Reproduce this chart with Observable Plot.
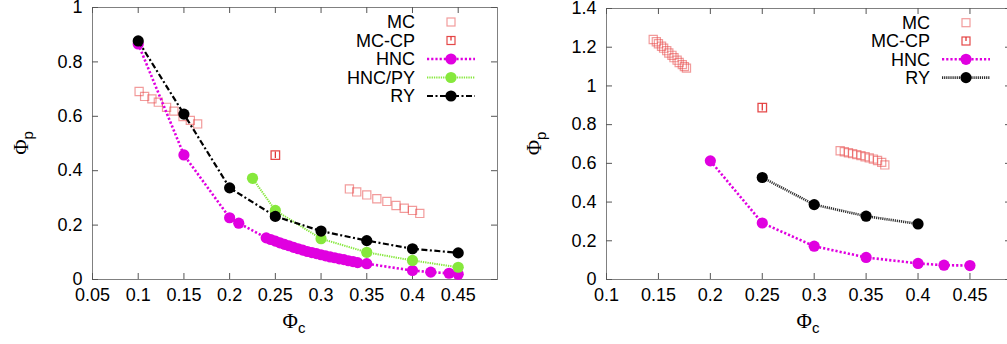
<!DOCTYPE html>
<html><head><meta charset="utf-8">
<script src="https://cdn.jsdelivr.net/npm/d3@7"></script>
<script src="https://cdn.jsdelivr.net/npm/@observablehq/plot@0.6"></script>
<style>
html,body{margin:0;padding:0;background:#fff;}
body{width:1007px;height:344px;overflow:hidden;}
#wrap{display:flex;width:1007px;height:344px;overflow:hidden;}
#wrap > div{flex:none;}
</style></head>
<body><div id="wrap"><div id="left"></div><div id="right"></div></div>
<script>
// ---------- Left panel data ----------
const leftXTicks = [0.05, 0.1, 0.15, 0.2, 0.25, 0.3, 0.35, 0.4, 0.45];
const leftXLabels = ["0.05", "0.1", "0.15", "0.2", "0.25", "0.3", "0.35", "0.4", "0.45"];
const leftYTicks = [0, 0.2, 0.4, 0.6, 0.8, 1];
const leftYLabels = ["0", "0.2", "0.4", "0.6", "0.8", "1"];

const leftMcX = [0.101, 0.107, 0.115, 0.122, 0.131, 0.139, 0.149, 0.157, 0.165,
                 0.331, 0.339, 0.350, 0.361, 0.372, 0.382, 0.391, 0.400, 0.408];
const leftMcY = [0.691, 0.673, 0.664, 0.652, 0.633, 0.619, 0.599, 0.585, 0.572,
                 0.333, 0.322, 0.311, 0.297, 0.287, 0.272, 0.262, 0.254, 0.243];
const leftMcCpX = [0.25];
const leftMcCpY = [0.457];
const leftMcCpErr = [0.012];
const leftHncX = [0.1, 0.15, 0.2, 0.21,
  0.240, 0.245, 0.250, 0.255, 0.260, 0.265, 0.270, 0.275, 0.280, 0.285, 0.290,
  0.295, 0.300, 0.305, 0.310, 0.315, 0.320, 0.325, 0.330, 0.335, 0.340,
  0.35, 0.4, 0.42, 0.44, 0.45];
const leftHncY = [0.866, 0.458, 0.227, 0.207,
  0.153, 0.147, 0.141, 0.135, 0.129, 0.124, 0.118, 0.113, 0.108, 0.103, 0.099,
  0.095, 0.091, 0.087, 0.083, 0.080, 0.076, 0.073, 0.069, 0.066, 0.062,
  0.058, 0.033, 0.027, 0.023, 0.019];
const leftHncPyX = [0.225, 0.25, 0.3, 0.35, 0.4, 0.45];
const leftHncPyY = [0.372, 0.254, 0.150, 0.100, 0.070, 0.045];
const leftRyX = [0.1, 0.15, 0.2, 0.25, 0.3, 0.35, 0.4, 0.45];
const leftRyY = [0.877, 0.608, 0.337, 0.232, 0.178, 0.143, 0.113, 0.098];

// ---------- Right panel data ----------
const rightXTicks = [0.1, 0.15, 0.2, 0.25, 0.3, 0.35, 0.4, 0.45];
const rightXLabels = ["0.1", "0.15", "0.2", "0.25", "0.3", "0.35", "0.4", "0.45"];
const rightYTicks = [0, 0.2, 0.4, 0.6, 0.8, 1, 1.2, 1.4];
const rightYLabels = ["0", "0.2", "0.4", "0.6", "0.8", "1", "1.2", "1.4"];

const rightMcX = [0.145, 0.148, 0.150, 0.153, 0.155, 0.158, 0.160, 0.163, 0.165, 0.168, 0.170, 0.173, 0.175, 0.177,
                  0.325, 0.329, 0.333, 0.337, 0.341, 0.345, 0.349, 0.353, 0.357, 0.361, 0.365, 0.368];
const rightMcY = [1.240, 1.228, 1.218, 1.205, 1.195, 1.182, 1.170, 1.158, 1.146, 1.133, 1.121, 1.110, 1.100, 1.092,
                  0.665, 0.660, 0.655, 0.650, 0.645, 0.640, 0.634, 0.628, 0.622, 0.615, 0.605, 0.592];
const rightMcCpX = [0.25];
const rightMcCpY = [0.888];
const rightMcCpErr = [0.018];
const rightHncX = [0.2, 0.25, 0.3, 0.35, 0.4, 0.425, 0.45];
const rightHncY = [0.613, 0.292, 0.172, 0.114, 0.083, 0.074, 0.072];
const rightRyX = [0.25, 0.3, 0.35, 0.4];
const rightRyY = [0.527, 0.387, 0.327, 0.287];

const seriesNames = ["MC", "MC-CP", "HNC", "HNC/PY", "RY"];

// ---------- styles ----------
const FONT = "'Liberation Sans', Arial, Helvetica, sans-serif";
const C_MC = "#e84848", C_CP = "#e02828", C_HNC = "#e000e0", C_PY = "#86e83c", C_RY = "#000000";

const zip = (xs, ys, es) => xs.map((x, i) => ({x, y: ys[i], e: es ? es[i] : 0}));

function panel(cfg) {
  const plotW = cfg.width - cfg.marginLeft - cfg.marginRight;
  const plotH = cfg.height - cfg.marginTop - cfg.marginBottom;
  const mc = zip(cfg.mcX, cfg.mcY);
  const cp = zip(cfg.cpX, cfg.cpY, cfg.cpErr);
  const hnc = zip(cfg.hncX, cfg.hncY);
  const py = cfg.pyX ? zip(cfg.pyX, cfg.pyY) : [];
  const ry = zip(cfg.ryX, cfg.ryY);
  const xFmt = d => cfg.xLabels[cfg.xTicks.indexOf(d)];
  const yFmt = d => cfg.yLabels[cfg.yTicks.indexOf(d)];
  const lineOpts = {strokeLinecap: "butt", strokeLinejoin: "miter"};
  const marks = [
    Plot.frame({stroke: "#808080", strokeWidth: 1}),
    Plot.tickX(cfg.xTicks, {x: d => d, insetTop: plotH - 6, stroke: "#555"}),
    Plot.tickX(cfg.xTicks, {x: d => d, insetBottom: plotH - 6, stroke: "#555"}),
    Plot.tickY(cfg.yTicks, {y: d => d, insetRight: plotW - 6, stroke: "#555"}),
    Plot.tickY(cfg.yTicks, {y: d => d, insetLeft: plotW - 6, stroke: "#555"}),
    Plot.axisX(cfg.xTicks, {anchor: "bottom", tickSize: 0, tickPadding: 9, tickFormat: xFmt, label: null, fontSize: 18, fill: "#000"}),
    Plot.axisY(cfg.yTicks, {anchor: "left", tickSize: 0, tickPadding: 10, tickFormat: yFmt, label: null, fontSize: 18, fill: "#000"}),
    // MC
    Plot.dot(mc, {x: "x", y: "y", symbol: "square", r: 4.6, stroke: C_MC, strokeOpacity: 0.55, strokeWidth: 1.2, fill: "none"}),
    // MC-CP
    Plot.ruleX(cp, {x: "x", y1: d => d.y - d.e, y2: d => d.y + d.e, stroke: C_CP, strokeWidth: 1.2}),
    Plot.dot(cp, {x: "x", y: "y", symbol: "square", r: 4.8, stroke: C_CP, strokeOpacity: 0.85, strokeWidth: 1.3, fill: "none"}),
    // HNC
    Plot.line(hnc, {x: "x", y: "y", stroke: C_HNC, strokeWidth: 2.6, strokeDasharray: "2.2,2", ...lineOpts}),
    Plot.dot(hnc, {x: "x", y: "y", r: 5.6, fill: C_HNC}),
  ];
  if (py.length) {
    marks.push(Plot.line(py, {x: "x", y: "y", stroke: C_PY, strokeWidth: 2, strokeDasharray: "1.3,1", ...lineOpts}));
    marks.push(Plot.dot(py, {x: "x", y: "y", r: 5.6, fill: C_PY}));
  }
  marks.push(Plot.line(ry, {x: "x", y: "y", stroke: cfg.ryStroke, strokeWidth: cfg.ryWidth, strokeDasharray: cfg.ryDash, ...lineOpts}));
  marks.push(Plot.dot(ry, {x: "x", y: "y", r: 5.6, fill: C_RY}));

  const svg = Plot.plot({
    width: cfg.width, height: cfg.height,
    marginLeft: cfg.marginLeft, marginRight: cfg.marginRight,
    marginTop: cfg.marginTop, marginBottom: cfg.marginBottom,
    x: {domain: cfg.xDomain},
    y: {domain: cfg.yDomain},
    style: {fontFamily: FONT, fontSize: "18px", color: "#000", background: "#fff", overflow: "visible"},
    marks
  });

  const s = d3.select(svg);
  // axis titles: Φ_p (vertical) and Φ_c
  const ty = s.append("text")
    .attr("transform", `translate(${cfg.yTitleX},${cfg.marginTop + plotH / 2}) rotate(-90)`)
    .attr("text-anchor", "middle").attr("font-size", 21).attr("fill", "#000");
  ty.append("tspan").attr("font-family", "'Liberation Serif', 'DejaVu Serif', serif").text("Φ");
  ty.append("tspan").attr("font-family", FONT).attr("font-size", 15).attr("dy", 5).text("p");
  const tx = s.append("text")
    .attr("x", cfg.xTitleX).attr("y", cfg.xTitleY)
    .attr("text-anchor", "middle").attr("font-size", 21).attr("fill", "#000");
  tx.append("tspan").attr("font-family", "'Liberation Serif', 'DejaVu Serif', serif").text("Φ");
  tx.append("tspan").attr("font-family", FONT).attr("font-size", 15).attr("dy", 5).text("c");

  // legend
  const L = cfg.legend;
  const styles = {
    "MC": {type: "sq", stroke: C_MC, op: 0.55},
    "MC-CP": {type: "sq", stroke: C_CP, op: 0.85, err: true},
    "HNC": {type: "ln", stroke: C_HNC, w: 2.6, dash: "2.2,2"},
    "HNC/PY": {type: "ln", stroke: C_PY, w: 2, dash: "1.3,1"},
    "RY": {type: "ln", stroke: cfg.ryStroke, w: cfg.ryWidth, dash: cfg.ryDash, dot: C_RY}
  };
  const g = s.append("g");
  cfg.legendNames.forEach((name, i) => {
    const y = L.y0 + i * L.dy;
    const st = styles[name];
    g.append("text").attr("x", L.textRight).attr("y", y).attr("dy", "0.36em")
      .attr("text-anchor", "end").attr("font-family", FONT).attr("font-size", 18).attr("fill", "#000").text(name);
    if (st.type === "sq") {
      g.append("rect").attr("x", L.mid - 4).attr("y", y - 4).attr("width", 8).attr("height", 8)
        .attr("fill", "none").attr("stroke", st.stroke).attr("stroke-opacity", st.op).attr("stroke-width", 1.2);
      if (st.err) g.append("line").attr("x1", L.mid).attr("x2", L.mid).attr("y1", y - 4).attr("y2", y)
        .attr("stroke", st.stroke).attr("stroke-width", 1.2);
    } else {
      g.append("line").attr("x1", L.x1).attr("x2", L.x2).attr("y1", y).attr("y2", y)
        .attr("stroke", st.stroke).attr("stroke-width", st.w).attr("stroke-dasharray", st.dash);
      g.append("circle").attr("cx", L.mid).attr("cy", y).attr("r", 5.6).attr("fill", st.dot || st.stroke);
    }
  });
  return svg;
}

document.getElementById("left").append(panel({
  width: 500, height: 344, marginLeft: 92, marginRight: 3, marginTop: 7, marginBottom: 65,
  xDomain: [0.05, 0.493], yDomain: [0, 1],
  xTicks: leftXTicks, xLabels: leftXLabels, yTicks: leftYTicks, yLabels: leftYLabels,
  mcX: leftMcX, mcY: leftMcY, cpX: leftMcCpX, cpY: leftMcCpY, cpErr: leftMcCpErr,
  hncX: leftHncX, hncY: leftHncY, pyX: leftHncPyX, pyY: leftHncPyY, ryX: leftRyX, ryY: leftRyY,
  ryStroke: "#000", ryWidth: 2.2, ryDash: "6,2.5,2,2.5",
  yTitleX: 28, xTitleX: 294, xTitleY: 328,
  legendNames: seriesNames,
  legend: {textRight: 415, x1: 427, x2: 475, mid: 451, y0: 22, dy: 18.5}
}));

document.getElementById("right").append(panel({
  width: 511, height: 344, marginLeft: 106, marginRight: 0, marginTop: 8, marginBottom: 65,
  xDomain: [0.1, 0.49], yDomain: [0, 1.4],
  xTicks: rightXTicks, xLabels: rightXLabels, yTicks: rightYTicks, yLabels: rightYLabels,
  mcX: rightMcX, mcY: rightMcY, cpX: rightMcCpX, cpY: rightMcCpY, cpErr: rightMcCpErr,
  hncX: rightHncX, hncY: rightHncY, ryX: rightRyX, ryY: rightRyY,
  ryStroke: "#303030", ryWidth: 2.6, ryDash: "1.2,0.9",
  yTitleX: 41, xTitleX: 308, xTitleY: 328,
  legendNames: seriesNames.filter(n => n !== "HNC/PY"),
  legend: {textRight: 430, x1: 442, x2: 490, mid: 466, y0: 22.7, dy: 18.3}
}));
</script>
</body></html>
